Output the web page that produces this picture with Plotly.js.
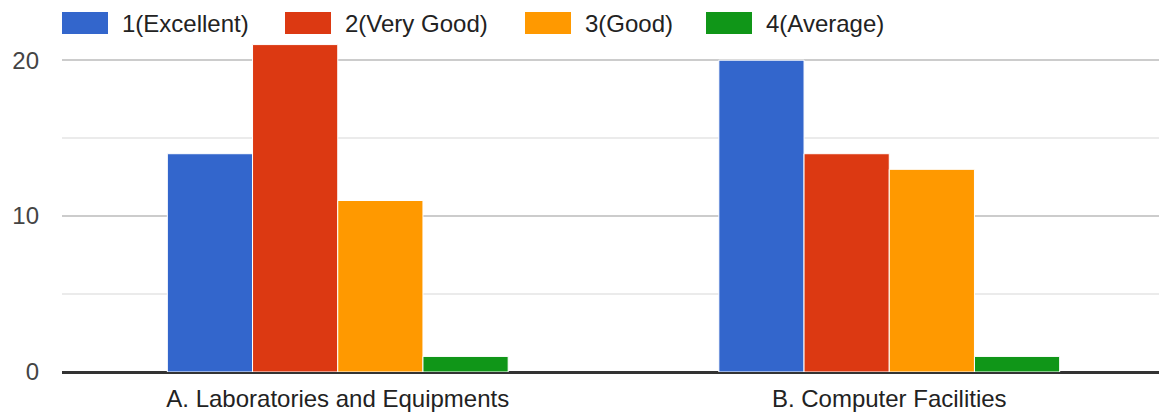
<!DOCTYPE html>
<html>
<head>
<meta charset="utf-8">
<script src="https://cdn.plot.ly/plotly-3.0.1.min.js"></script>
<style>html,body{margin:0;padding:0;background:#fff;overflow:hidden}#chart{width:1159px;height:416px}</style>
</head>
<body>
<div id="chart"></div>
<script>
const categories = ["A. Laboratories and Equipments", "B. Computer Facilities"];
const seriesNames = ["1(Excellent)", "2(Very Good)", "3(Good)", "4(Average)"];
const excellent = [14, 20];
const veryGood = [21, 14];
const good = [11, 13];
const average = [1, 1];
const seriesValues = [excellent, veryGood, good, average];
const colors = ["#3366cc", "#dc3912", "#ff9900", "#109618"];
const yTicks = [0, 10, 20];

const W = 1159, H = 416;
const mL = 62, mR = 0, mT = 29, mB = 44;
const plotW = W - mL - mR, plotH = H - mT - mB;
const catStep = 551.5;

const traces = seriesNames.map((name, i) => ({
  type: "bar",
  name: name,
  x: categories,
  y: seriesValues[i],
  marker: { color: colors[i], line: { color: "#ffffff", width: 1 } },
  showlegend: false,
  hoverinfo: "y+name"
}));

const legendX = [62, 285, 525, 706];
const swW = 46, swTop = 12, swBot = 34, textGap = 12;
const px2x = p => (p - mL) / plotW;
const py2y = p => (H - mB - p) / plotH;
const shapes = [];
const annotations = [];
seriesNames.forEach((name, i) => {
  shapes.push({
    type: "rect", xref: "paper", yref: "paper",
    x0: px2x(legendX[i]), x1: px2x(legendX[i] + swW),
    y0: py2y(swBot), y1: py2y(swTop),
    fillcolor: colors[i], line: { width: 0 }
  });
  annotations.push({
    xref: "paper", yref: "paper",
    x: px2x(legendX[i] + swW + textGap), y: py2y((swTop + swBot) / 2),
    xanchor: "left", yanchor: "middle", showarrow: false,
    text: name, font: { family: "Liberation Sans, Arial, sans-serif", size: 24, color: "#222222" }
  });
});

const layout = {
  width: W, height: H,
  margin: { l: mL, r: mR, t: mT, b: mB, pad: 0 },
  paper_bgcolor: "#ffffff", plot_bgcolor: "#ffffff",
  barmode: "group", bargap: 0.382, bargroupgap: 0,
  font: { family: "Liberation Sans, Arial, sans-serif", size: 24, color: "#222222" },
  xaxis: {
    type: "category",
    range: [-catStep / 2 / catStep, (plotW - catStep / 2) / catStep],
    showgrid: false, zeroline: false, showline: false, ticks: "",
    tickfont: { size: 24, color: "#222222" },
    ticklabelstandoff: 10
  },
  yaxis: {
    range: [0, 22],
    tickvals: yTicks, ticktext: yTicks.map(String),
    showgrid: true, gridcolor: "#cccccc", gridwidth: 2,
    minor: { dtick: 5, tick0: 0, showgrid: true, gridcolor: "#ebebeb", gridwidth: 2 },
    zeroline: true, zerolinecolor: "#333333", zerolinewidth: 3,
    showline: false, ticks: "",
    tickfont: { size: 24, color: "#444444" },
    ticklabelstandoff: 22
  },
  shapes: shapes,
  annotations: annotations
};

Plotly.newPlot("chart", traces, layout, { displayModeBar: false, staticPlot: true });
</script>
</body>
</html>
